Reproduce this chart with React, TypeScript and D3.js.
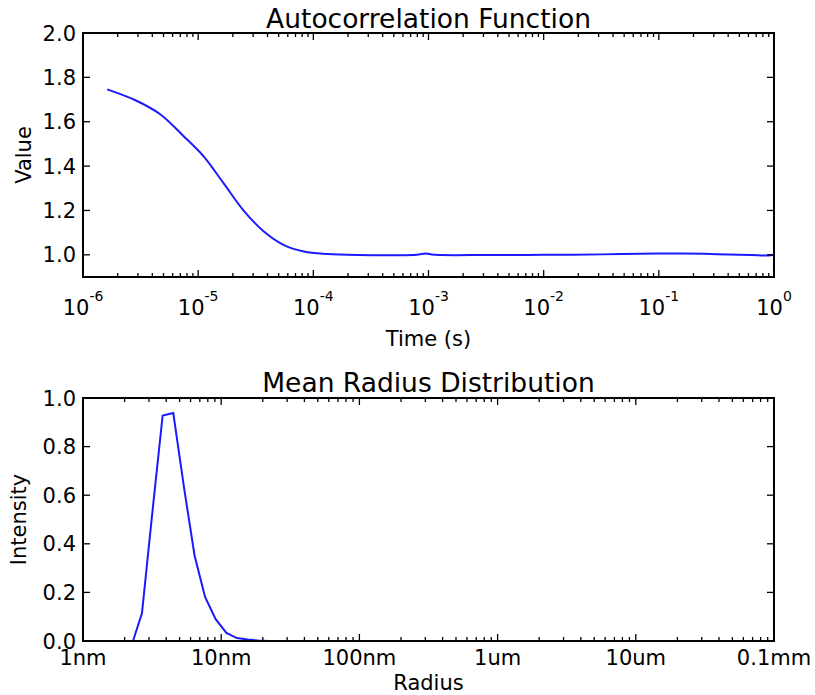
import React from "react";
import * as d3 from "d3";

const acfTime = [1.62e-6, 2.82e-6, 4.68e-6, 7.41e-6, 1.12e-5, 1.66e-5, 2.45e-5, 3.72e-5, 5.5e-5, 8.3e-5, 1.32e-4, 2.5e-4, 5e-4, 7.9e-4, 9.5e-4, 1.07e-3, 1.26e-3, 3.2e-3, 1e-2, 3.2e-2, 0.1, 0.16, 0.32, 0.63, 0.89, 1];
const acfValue = [1.746, 1.698, 1.634, 1.537, 1.443, 1.323, 1.203, 1.105, 1.045, 1.015, 1.004, 0.999, 0.998, 1.0, 1.006, 1.001, 0.999, 0.999, 1.0, 1.002, 1.006, 1.006, 1.003, 0.999, 0.997, 1.0];

const radiusNm = [2.3, 2.67, 3.17, 3.77, 4.5, 5.37, 6.41, 7.64, 9.12, 10.9, 13.0, 15.5, 18.5, 22, 50, 100, 1000, 10000, 100000];
const intensity = [0, 0.114, 0.525, 0.928, 0.938, 0.635, 0.353, 0.181, 0.09, 0.033, 0.012, 0.006, 0.002, 0, 0, 0, 0, 0, 0];

const acfYTicks = [1.0, 1.2, 1.4, 1.6, 1.8, 2.0];
const radYTicks = [0.0, 0.2, 0.4, 0.6, 0.8, 1.0];
const radXTickLabels = ["1nm", "10nm", "100nm", "1um", "10um", "0.1mm"];

const FONT = "'DejaVu Sans', sans-serif";
const TICK_FS = 21;
const TITLE_FS = 26.5;
const MAJOR = 7;
const MINOR = 4;
const LEFT = 83;
const RIGHT = 774;

function Frame({ x, y, xTicks, yTicks, top, bottom }: any) {
  const ticks: any[] = [];
  xTicks.forEach((t: number, i: number) => {
    const major = Math.abs(Math.log10(t) - Math.round(Math.log10(t))) < 1e-9;
    const L = major ? MAJOR : MINOR;
    const px = x(t);
    ticks.push(<line key={"xb" + i} x1={px} x2={px} y1={bottom} y2={bottom - L} stroke="#000" strokeWidth={1.3} />);
    ticks.push(<line key={"xt" + i} x1={px} x2={px} y1={top} y2={top + L} stroke="#000" strokeWidth={1.3} />);
  });
  yTicks.forEach((t: number, i: number) => {
    const py = y(t);
    ticks.push(<line key={"yl" + i} x1={LEFT} x2={LEFT + MAJOR} y1={py} y2={py} stroke="#000" strokeWidth={1.3} />);
    ticks.push(<line key={"yr" + i} x1={RIGHT} x2={RIGHT - MAJOR} y1={py} y2={py} stroke="#000" strokeWidth={1.3} />);
  });
  return (
    <g>
      {ticks}
      <rect x={LEFT} y={top} width={RIGHT - LEFT} height={bottom - top} fill="none" stroke="#000" strokeWidth={2} />
    </g>
  );
}

export default function App() {
  // Top panel
  const t1 = 33, b1 = 277;
  const x1 = d3.scaleLog().domain([1e-6, 1]).range([LEFT, RIGHT]);
  const y1 = d3.scaleLinear().domain([0.9, 2.0]).range([b1, t1]);
  const line1 = d3
    .line<number>()
    .x((_, i) => x1(acfTime[i]))
    .y((d) => y1(d))
    .curve(d3.curveCatmullRom.alpha(0.5));
  const x1Ticks = x1.ticks();
  const x1Major = x1Ticks.filter((t) => Math.abs(Math.log10(t) - Math.round(Math.log10(t))) < 1e-9);

  // Bottom panel
  const t2 = 398, b2 = 641;
  const x2 = d3.scaleLog().domain([1, 1e5]).range([LEFT, RIGHT]);
  const y2 = d3.scaleLinear().domain([0, 1]).range([b2, t2]);
  const line2 = d3
    .line<number>()
    .x((_, i) => x2(radiusNm[i]))
    .y((d) => y2(d));
  const x2Ticks = x2.ticks();
  const x2Major = x2Ticks.filter((t) => Math.abs(Math.log10(t) - Math.round(Math.log10(t))) < 1e-9);

  const mid = (LEFT + RIGHT) / 2;

  return (
    <svg width={815} height={695} style={{ position: "absolute", left: 0, top: 0, background: "#fff" }} fontFamily={FONT}>
      <rect width={815} height={695} fill="#fff" />
      {/* Top panel */}
      <text x={mid} y={28} fontSize={TITLE_FS} textAnchor="middle" fill="#000">Autocorrelation Function</text>
      <path d={line1(acfValue) || ""} fill="none" stroke="#1a1aff" strokeWidth={2} />
      <Frame x={x1} y={y1} xTicks={x1Ticks} yTicks={acfYTicks} top={t1} bottom={b1} />
      {acfYTicks.map((t) => (
        <text key={"y1l" + t} x={76} y={y1(t)} dy="0.36em" fontSize={TICK_FS} textAnchor="end" fill="#000">{t.toFixed(1)}</text>
      ))}
      {x1Major.map((t) => (
        <text key={"x1l" + t} x={x1(t)} y={315} fontSize={TICK_FS} textAnchor="middle" fill="#000">
          10<tspan fontSize={14} dy={-14}>{String(Math.round(Math.log10(t)))}</tspan>
        </text>
      ))}
      <text x={mid} y={346} fontSize={TICK_FS} textAnchor="middle" fill="#000">Time (s)</text>
      <text transform={`translate(31,${(t1 + b1) / 2}) rotate(-90)`} fontSize={TICK_FS} textAnchor="middle" fill="#000">Value</text>

      {/* Bottom panel */}
      <text x={mid} y={392} fontSize={TITLE_FS} textAnchor="middle" fill="#000">Mean Radius Distribution</text>
      <path d={line2(intensity) || ""} fill="none" stroke="#1a1aff" strokeWidth={2} />
      <Frame x={x2} y={y2} xTicks={x2Ticks} yTicks={radYTicks} top={t2} bottom={b2} />
      {radYTicks.map((t) => (
        <text key={"y2l" + t} x={76} y={y2(t)} dy="0.36em" fontSize={TICK_FS} textAnchor="end" fill="#000">{t.toFixed(1)}</text>
      ))}
      {x2Major.map((t, i) => (
        <text key={"x2l" + t} x={x2(t)} y={665} fontSize={TICK_FS} textAnchor="middle" fill="#000">{radXTickLabels[i]}</text>
      ))}
      <text x={mid} y={690} fontSize={TICK_FS} textAnchor="middle" fill="#000">Radius</text>
      <text transform={`translate(26,${(t2 + b2) / 2}) rotate(-90)`} fontSize={TICK_FS} textAnchor="middle" fill="#000">Intensity</text>
    </svg>
  );
}
